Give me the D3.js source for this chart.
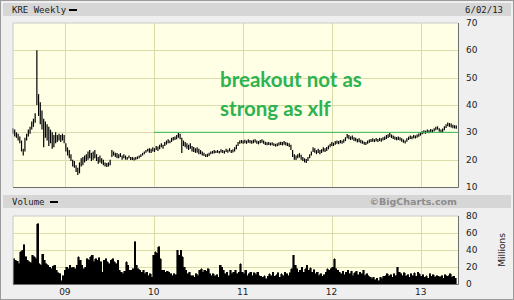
<!DOCTYPE html>
<html>
<head>
<meta charset="utf-8">
<script src="https://cdn.jsdelivr.net/npm/d3@7"></script>
<style>
  body { margin: 0; background: #fff; }
  text { font-family: "DejaVu Sans", Verdana, sans-serif; }
  .mono { font-family: "DejaVu Sans Mono", monospace; font-size: 9px; fill: #222; }
  .ax { font-size: 9px; fill: #222; }
</style>
</head>
<body>
<svg class="chart" width="514" height="300"></svg>
<script>
var svg = d3.select(".chart"),
    width = +svg.attr("width"),
    height = +svg.attr("height");

// weekly bars, first week = 2 Jun 2008
var startWeek = new Date(2008, 5, 2);
var endDate = new Date(2013, 5, 3);

var hi = [
  31.5, 31, 30, 29.5, 28.5, 27, 24, 28, 29.5, 31,
  32, 34, 35, 37, 60, 44, 41, 38, 35, 34,
  33, 32, 31, 30, 29, 30, 29, 29.5, 29, 29.5,
  29, 26, 24.5, 23.5, 22, 20, 19.5, 18, 17, 19,
  20.5, 21, 21.5, 22, 23, 23.5, 22.5, 23, 23.5, 22,
  21, 21.5, 20.5, 20, 19, 18.8, 19, 20, 23.5, 23,
  22.5, 22.4, 22, 22.4, 21.5, 22, 21.5, 21, 21.5, 21,
  21, 20.8, 21, 21.2, 21.5, 22, 22.5, 23, 23.5, 24,
  24.2, 24, 24.5, 24.2, 25, 24.8, 25.5, 26, 25.5, 26.5,
  27, 27.5, 27, 28, 28.3, 28.5, 29, 29.8, 29.5, 28,
  27, 26.5, 26, 25.5, 26, 25, 24.6, 24.2, 24.5, 24,
  23.5, 23, 22.5, 22, 22.2, 22.5, 23, 23.2, 23.5, 23.3,
  23.5, 23.2, 23.8, 23.5, 23.3, 24, 23.6, 24.2, 23.5, 23.8,
  24.5, 25.5, 26.5, 27, 27.2, 27, 27.3, 27, 27.5, 27.2,
  27, 27.3, 27.5, 27, 26.8, 27.2, 27.5, 27, 26.6, 26.4,
  26.5, 26.2, 26.4, 26, 25.8, 26, 26.4, 26.6, 26.5, 26.8,
  26.5, 26.2, 26, 25.5, 23.5, 22, 21.5, 22, 22.4, 21.8,
  21, 20.5, 20.2, 21, 22, 23, 24.5, 24.2, 23.5, 24,
  23.5, 23.8, 24.5, 24.2, 24.6, 25.2, 25.8, 26.5, 26.2, 26.8,
  27, 26.8, 27.2, 27, 27.5, 28.2, 29.4, 29, 28.5, 28.8,
  28.2, 28, 27.6, 27.8, 27.3, 27, 26.6, 26.5, 27, 27.4,
  27.6, 27.8, 27.5, 27.9, 27.6, 28, 27.8, 28.2, 28.5, 29,
  29.3, 29.8, 29.2, 28.8, 28.5, 28.3, 28.5, 28.2, 27.8, 27.4,
  27, 27.8, 28.4, 28.8, 28.6, 29, 28.8, 29.2, 29.6, 30,
  30.4, 30.8, 30.6, 31, 30.8, 31.2, 31, 31.5, 32, 32.2,
  31.5, 31, 31.4, 32.2, 33, 33.6, 33.4, 33.2, 32.8, 32.6, 32.5
];

var lo = [
  29.5, 28.5, 28, 27, 26, 23, 21.5, 23, 27, 28.5,
  29.5, 31, 32, 33.5, 40, 36, 33, 31, 24.5, 28,
  27, 25, 26, 24, 24.5, 26, 26.5, 27, 26.5, 27,
  26, 23, 21.5, 20.5, 19.5, 17.5, 17, 15.5, 14.4, 15,
  17.5, 18, 19, 19.5, 20, 20.5, 19.5, 20, 20.5, 19.5,
  18.5, 19, 18.5, 18, 17.5, 17.3, 17.5, 18, 21, 21.5,
  21, 20.5, 20.5, 21, 20, 20.5, 20, 20, 20.5, 19.9,
  19.9, 19.7, 20, 20.2, 20.5, 21, 21.5, 22, 22.5, 23,
  22.5, 22.4, 23, 22.8, 23.5, 23.2, 23.8, 24.5, 24, 25,
  25.5, 26, 26, 26.5, 27, 27.2, 27.5, 28, 27.5, 22.4,
  25, 24.5, 24, 23.5, 24, 23, 22.8, 22.5, 22.5, 22,
  22, 21.5, 21.3, 21, 21, 21.3, 22, 22.2, 22.3, 22.4,
  22.5, 22.3, 22.6, 22.4, 22.2, 22.8, 22.5, 23, 22.4, 22.6,
  23, 23.8, 25, 25.8, 26, 25.8, 26, 25.8, 26.2, 26,
  25.8, 26, 26.3, 25.8, 25.6, 26, 26.2, 25.8, 25.4, 25.3,
  25.4, 25.2, 25.3, 25, 24.8, 24.9, 25.2, 25.4, 25.2, 25.5,
  25.2, 25, 24.6, 23.5, 21, 20, 19.9, 20.5, 20.8, 20,
  19.5, 19, 18.8, 19.5, 20.5, 21.5, 22.8, 22.5, 22, 22.4,
  22, 22.4, 23, 22.8, 23.2, 23.8, 24.5, 25, 25, 25.5,
  25.8, 25.6, 26, 25.8, 26.2, 26.8, 27.8, 27.5, 27.2, 27.4,
  26.8, 26.7, 26.3, 26.4, 26, 25.8, 25.5, 25.4, 25.8, 26.2,
  26.5, 26.6, 26.4, 26.7, 26.5, 26.8, 26.6, 27, 27.2, 27.6,
  27.9, 28.3, 27.9, 27.6, 27.3, 27.1, 27.2, 27, 26.6, 26.2,
  25.9, 26.6, 27.2, 27.6, 27.5, 27.8, 27.7, 28, 28.4, 28.8,
  29.3, 29.6, 29.5, 29.8, 29.7, 30, 29.8, 30.3, 30.8, 31,
  30.2, 29.8, 30, 30.8, 31.6, 32.2, 32, 31.8, 31.5, 31.4, 31.3
];

// weekly volume, millions
var vol = [
  30, 28, 27, 24, 38, 40, 46, 32, 28, 26,
  25, 34, 32, 30, 71, 24, 22, 35, 28, 24,
  22, 20, 18, 21, 22, 16, 13, 12, 4, 10,
  16, 20, 18, 22, 19, 20, 18, 22, 32, 28,
  22, 18, 20, 30, 28, 32, 34, 26, 30, 28,
  31, 26, 14, 28, 30, 26, 24, 28, 30, 26,
  24, 28, 16, 14, 12, 15, 26, 22, 16, 16,
  18, 50, 22, 18, 16, 14, 16, 12, 14, 10,
  12, 8, 34, 38, 36, 44, 30, 16, 16, 14,
  15, 14, 12, 10, 12, 11, 40, 34, 40, 32,
  20, 16, 12, 14, 10, 10, 8, 12, 10, 16,
  18, 14, 16, 15, 18, 12, 10, 12, 9, 11,
  8, 22, 20, 16, 12, 14, 10, 16, 12, 14,
  16, 12, 14, 24, 14, 12, 16, 10, 12, 14,
  10, 13, 11, 14, 10, 9, 8, 10, 6, 9,
  12, 10, 14, 9, 11, 13, 8, 12, 10, 14,
  12, 10, 13, 18, 34, 22, 18, 14, 16, 20,
  14, 18, 22, 16, 19, 14, 17, 12, 14, 10,
  12, 9, 11, 14, 18, 16, 18, 20, 30, 18,
  16, 14, 12, 15, 11, 14, 16, 12, 15, 10,
  13, 15, 11, 14, 12, 16, 10, 12, 10, 8,
  6, 8, 5, 7, 4, 8, 6, 9, 10, 12,
  9, 11, 8, 12, 10, 20, 14, 12, 10, 13,
  9, 11, 8, 12, 10, 13, 9, 14, 12, 9,
  11, 8, 10, 7, 12, 9, 11, 8, 10, 9,
  8, 10, 7, 11, 9, 10, 12, 8, 9, 7, 6
];

var priceTicks = [10, 20, 30, 40, 50, 60, 70];
var volTicks = [0, 20, 40, 60, 80];
var yearTicks = [new Date(2009, 0, 1), new Date(2010, 0, 1), new Date(2011, 0, 1), new Date(2012, 0, 1), new Date(2013, 0, 1)];
var breakoutLevel = 30;
var breakoutFrom = new Date(2010, 0, 1);
var note = ["breakout not as", "strong as xlf"];

var weeks = hi.map(function(h, i) {
  return {date: d3.timeDay.offset(startWeek, i * 7), hi: h, lo: lo[i], vol: vol[i]};
});

var left = 13, right = 458;
var x = d3.scaleTime().domain([startWeek, endDate]).range([left, right]);
var y = d3.scaleLinear().domain([10, 70]).range([187, 23]);
var yv = d3.scaleLinear().domain([0, 80]).range([284, 216]);

// frame
svg.append("rect").attr("x", 0.5).attr("y", 0.5).attr("width", width - 1).attr("height", height - 1)
  .attr("fill", "#efefef").attr("stroke", "#9a9a9a");

// header bars
function header(top, label, dashX) {
  svg.append("rect").attr("x", 3).attr("y", top).attr("width", 508).attr("height", 13).attr("fill", "#d6d6d6");
  svg.append("text").attr("class", "mono").attr("x", 12).attr("y", top + 10).text(label);
  svg.append("rect").attr("x", dashX).attr("y", top + 6).attr("width", 8).attr("height", 2).attr("fill", "#000");
}
header(3, "KRE Weekly", 69);
header(195, "Volume", 50);

svg.append("text").attr("class", "mono").attr("x", 503).attr("y", 13)
  .attr("text-anchor", "end").text("6/02/13");
svg.append("text").attr("x", 457).attr("y", 205).attr("text-anchor", "end")
  .style("font-size", "9.5px").style("font-weight", "bold").style("fill", "#8c8c8c")
  .text("\u00a9BigCharts.com");

// plot panels
function panel(top, bottom, yScale, ticks) {
  var g = svg.append("g");
  g.append("rect").attr("x", left).attr("y", top).attr("width", right - left).attr("height", bottom - top)
    .attr("fill", "#ffffe6");
  g.selectAll(".hg").data(ticks.slice(1, -1)).enter().append("line")
    .attr("x1", left).attr("x2", right)
    .attr("y1", function(d) { return Math.round(yScale(d)) + 0.5; })
    .attr("y2", function(d) { return Math.round(yScale(d)) + 0.5; })
    .attr("stroke", "#dcdcaa");
  g.selectAll(".vg").data(yearTicks).enter().append("line")
    .attr("y1", top).attr("y2", bottom)
    .attr("x1", function(d) { return Math.round(x(d)) + 0.5; })
    .attr("x2", function(d) { return Math.round(x(d)) + 0.5; })
    .attr("stroke", "#dcdcaa");
  return g;
}

var pricePanel = panel(23, 187, y, priceTicks);
var volPanel = panel(216, 284, yv, volTicks);

// volume area
var area = d3.area()
  .curve(d3.curveStepAfter)
  .x(function(d) { return x(d.date); })
  .y0(yv(0))
  .y1(function(d) { return yv(d.vol); });
volPanel.append("path").datum(weeks).attr("d", area)
  .attr("fill", "#000").attr("stroke", "#000").attr("stroke-width", 0.6)
  .style("shape-rendering", "crispEdges");

// breakout line
svg.append("line")
  .attr("x1", x(breakoutFrom)).attr("x2", right)
  .attr("y1", y(breakoutLevel)).attr("y2", y(breakoutLevel))
  .attr("stroke", "#33bb55").attr("stroke-width", 1);

// price bars
pricePanel.selectAll(".bar").data(weeks).enter().append("line")
  .attr("x1", function(d) { return x(d.date); })
  .attr("x2", function(d) { return x(d.date); })
  .attr("y1", function(d) { return y(d.hi); })
  .attr("y2", function(d) { return y(d.lo); })
  .attr("stroke", "#000").attr("stroke-width", 1.2);

// panel borders
[[23, 187], [216, 284]].forEach(function(p) {
  svg.append("path")
    .attr("d", "M" + left + "," + p[1] + "V" + p[0] + "H" + right)
    .attr("fill", "none").attr("stroke", "#c8c8c8");
  svg.append("path")
    .attr("d", "M" + (left) + "," + (p[1] + 0.5) + "H" + (right + 0.5) + "V" + p[0])
    .attr("fill", "none").attr("stroke", "#6e6e6e");
});

// right axes
svg.selectAll(".pt").data(priceTicks).enter().append("text").attr("class", "ax")
  .attr("x", 466).attr("y", function(d) { return y(d) + 3; }).text(function(d) { return d; });
svg.selectAll(".vt").data(volTicks).enter().append("text").attr("class", "ax")
  .attr("x", 466).attr("y", function(d) { return yv(d) + 3; }).text(function(d) { return d; });
svg.append("text").attr("class", "ax")
  .attr("transform", "translate(505,250) rotate(-90)")
  .attr("text-anchor", "middle").text("Millions");

// year labels
svg.selectAll(".yl").data(yearTicks).enter().append("text").attr("class", "ax")
  .attr("x", function(d) { return x(d); }).attr("y", 295)
  .attr("text-anchor", "middle").text(d3.timeFormat("%y"));

// annotation
svg.selectAll(".note").data(note).enter().append("text")
  .attr("x", 220).attr("y", function(d, i) { return 87 + i * 29; })
  .style("font-family", "Lato, 'Open Sans', sans-serif").style("font-weight", "bold")
  .style("font-size", "20.5px").style("fill", "#2db34f")
  .text(function(d) { return d; });
</script>
</body>
</html>
